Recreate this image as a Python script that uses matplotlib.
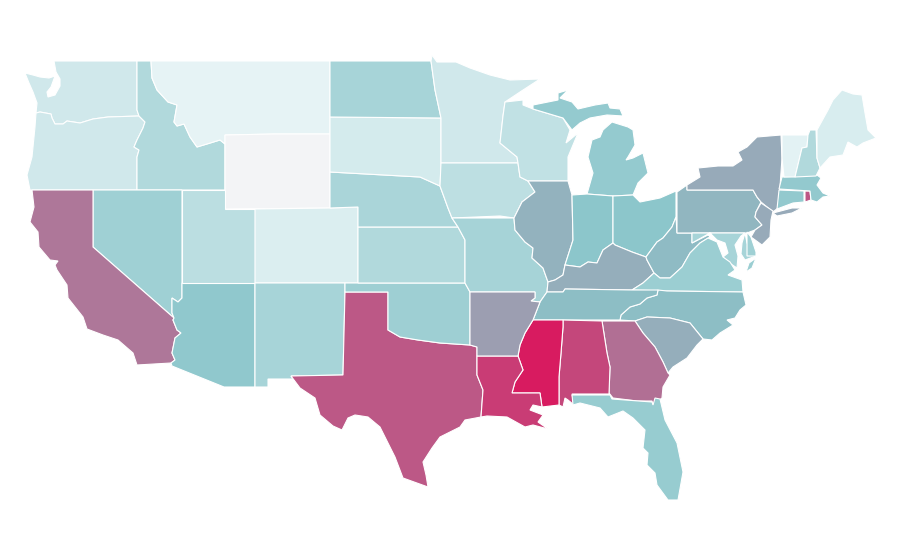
import matplotlib
matplotlib.use("Agg")
import matplotlib.pyplot as plt
from matplotlib.colors import LinearSegmentedColormap, Normalize

# outlines, in picture coordinates (x right, y down)
WA = [(54,61),(137,61),(137,110),(139,116),(108,117),(93,119),(80,123),(67,121),(63,124),(55,124),(52,118),(51,114),(40,112),(36,113),(37,103),(33,92),(29,83),(25,73),(33,75),(40,77),(49,78),(55,76),(51,87),(47,92),(48,97),(55,95),(60,86),(60,79),(56,72)]
OR = [(36,113),(40,112),(51,114),(52,118),(55,124),(63,124),(67,121),(80,123),(93,119),(108,117),(139,116),(145,122),(143,128),(137,140),(134,147),(139,150),(137,157),(137,190),(30,190),(27,175),(32,157),(35,127)]
ID = [(137,61),(151,61),(152,78),(157,90),(168,102),(177,105),(174,122),(177,126),(184,124),(190,137),(197,147),(207,144),(220,140),(225,144),(225,190),(137,190),(137,157),(139,150),(134,147),(137,140),(143,128),(145,122),(139,116),(137,110)]
MT = [(151,61),(330,61),(330,134),(275,134),(225,135),(225,144),(220,140),(207,144),(197,147),(190,137),(184,124),(177,126),(174,122),(177,105),(168,102),(157,90),(152,78)]
WY = [(225,135),(275,134),(330,134),(330,208),(225,209)]
NV = [(93,190),(182,190),(182,298),(178,302),(172,298),(172,313),(174,318),(93,247)]
CA = [(32,190),(93,190),(93,247),(174,318),(173,320),(177,330),(181,333),(175,338),(172,353),(175,360),(171,363),(137,365),(133,353),(118,340),(103,335),(87,329),(83,317),(68,298),(67,285),(57,270),(55,265),(58,261),(50,260),(39,247),(38,232),(30,222),(34,207)]
AZ = [(182,283),(255,283),(255,387),(224,387),(172,366),(171,363),(175,360),(172,353),(175,338),(181,333),(177,330),(173,320),(174,318),(172,313),(172,298),(178,302),(182,298)]
UT = [(182,190),(225,190),(225,209),(255,209),(255,283),(182,283)]
CO = [(255,209),(330,208),(358,207),(358,283),(255,283)]
NM = [(255,283),(345,283),(345,292),(343,375),(291,376),(293,379),(268,379),(268,387),(255,387)]
TX = [(345,292),(388,292),(388,330),(400,337),(418,340),(440,343),(470,345),(477,347),(477,375),(483,390),(481,417),(465,420),(460,427),(452,431),(440,437),(432,448),(423,462),(426,475),(428,487),(403,478),(395,457),(380,427),(368,417),(355,415),(348,418),(342,430),(333,426),(320,415),(315,398),(300,388),(291,376),(343,375)]
OK = [(345,283),(465,283),(470,292),(470,345),(440,343),(418,340),(400,337),(388,330),(388,292),(345,292)]
KS = [(358,227),(458,227),(465,240),(465,283),(358,283)]
NE = [(330,172),(420,177),(440,186),(448,208),(452,218),(458,227),(358,227),(358,207),(330,208)]
SD = [(330,117),(441,118),(441,165),(440,186),(420,177),(330,172)]
ND = [(330,61),(431,61),(435,90),(441,118),(330,117)]
MN = [(431,61),(432,55),(437,62),(456,62),(470,68),(490,75),(510,80),(540,79),(520,92),(505,102),(503,116),(500,143),(517,157),(518,163),(441,163),(441,118),(435,90)]
IA = [(441,163),(518,163),(520,177),(528,181),(535,192),(522,202),(514,218),(500,216),(452,218),(448,208),(440,186)]
MO = [(452,218),(514,218),(515,230),(525,242),(533,248),(532,258),(543,268),(548,282),(547,292),(540,302),(531,301),(535,298),(535,292),(470,292),(465,283),(465,240),(458,227)]
WI = [(505,102),(523,100),(523,105),(533,109),(563,118),(570,130),(566,143),(578,133),(568,157),(568,181),(528,181),(520,177),(518,163),(517,157),(500,143),(503,116)]
MI_UP = [(533,105),(558,100),(558,93),(568,90),(560,98),(572,102),(578,109),(595,105),(608,103),(610,108),(620,109),(623,116),(607,115),(590,118),(580,123),(572,130),(563,118),(533,109)]
MI_LP = [(612,122),(628,127),(633,130),(635,145),(628,157),(626,160),(633,158),(643,153),(648,173),(638,183),(633,195),(613,196),(587,194),(593,173),(588,157),(592,140),(600,137),(603,130)]
IL = [(528,181),(568,181),(572,195),(573,240),(565,265),(563,275),(555,280),(548,282),(543,268),(532,258),(533,248),(525,242),(515,230),(514,218),(522,202),(535,192)]
IN = [(572,195),(587,194),(613,196),(613,243),(603,250),(597,263),(588,262),(580,267),(565,265),(573,240)]
OH = [(613,196),(633,195),(640,202),(660,198),(676,191),(676,217),(672,227),(663,238),(657,242),(646,257),(632,252),(615,245),(613,243)]
KY = [(613,243),(615,245),(632,252),(646,257),(647,260),(654,273),(643,283),(632,290),(565,289),(563,292),(547,292),(548,282),(555,280),(563,275),(565,265),(580,267),(588,262),(597,263),(603,250)]
WV = [(676,217),(677,233),(692,233),(692,243),(708,235),(717,242),(710,237),(700,243),(690,253),(682,267),(670,278),(660,278),(654,273),(647,260),(646,257),(657,242),(663,238),(672,227)]
PA = [(677,192),(687,185),(687,190),(753,190),(757,197),(761,202),(756,212),(755,217),(762,225),(755,230),(747,233),(677,233)]
MD_W = [(692,233),(745,233),(741,236),(735,245),(738,256),(737,268),(728,262),(723,257),(728,253),(725,243),(717,240),(710,233),(692,243)]
MD_E = [(745,233),(747,243),(756,256),(745,260),(741,254),(742,243)]
DE = [(747,232),(751,237),(756,252),(756,256),(747,256),(747,243)]
VA = [(632,290),(643,283),(654,273),(660,278),(670,278),(682,267),(690,253),(700,243),(708,238),(717,242),(723,257),(730,262),(735,270),(728,275),(742,280),(743,292),(667,291)]
VA_E = [(756,258),(752,268),(746,272),(749,263)]
NC = [(658,290),(667,291),(743,292),(746,305),(740,310),(735,318),(727,320),(733,325),(720,333),(712,340),(703,339),(690,323),(670,318),(647,317),(635,321),(620,320),(621,315),(630,307),(640,304),(647,298),(657,295)]
TN = [(547,292),(563,292),(565,289),(632,290),(658,290),(657,295),(647,298),(640,304),(630,307),(621,315),(620,320),(533,320),(540,302)]
SC = [(635,321),(647,317),(670,318),(690,323),(703,339),(697,345),(687,358),(673,367),(668,373),(663,362),(655,347),(643,333)]
GA = [(602,321),(635,321),(643,333),(655,347),(663,362),(668,373),(670,375),(663,387),(662,398),(653,405),(652,401),(637,401),(613,398),(609,393),(610,367),(607,353)]
AL = [(563,320),(602,321),(607,353),(610,367),(609,394),(572,394),(574,405),(568,400),(565,398),(563,407),(559,405),(559,377),(561,353),(563,327)]
MS = [(533,320),(563,320),(563,327),(561,353),(559,377),(559,405),(542,407),(540,393),(512,393),(515,382),(523,370),(518,356),(520,345),(525,333)]
LA = [(477,356),(518,356),(523,370),(515,382),(512,393),(540,393),(542,407),(533,405),(530,410),(543,415),(538,422),(548,429),(533,425),(525,427),(507,417),(487,416),(481,417),(483,390),(477,375)]
FL = [(572,395),(610,395),(612,399),(652,402),(653,405),(655,398),(660,399),(665,420),(677,443),(683,472),(678,500),(668,500),(657,485),(655,473),(647,465),(648,453),(643,448),(645,430),(633,418),(623,411),(608,417),(600,408),(580,403),(573,405)]
AR = [(470,292),(535,292),(535,298),(531,301),(540,302),(533,320),(525,333),(520,345),(518,356),(477,356),(477,347),(470,345)]
NY = [(687,190),(687,185),(700,177),(698,168),(718,166),(733,166),(742,160),(738,152),(747,147),(757,137),(781,135),(782,158),(780,187),(778,208),(773,212),(761,202),(757,197),(753,190)]
NY_LI = [(773,213),(792,208),(802,208),(792,213),(777,216)]
NJ = [(761,203),(773,211),(771,220),(770,237),(762,245),(751,237),(755,230),(762,225),(755,217),(756,212)]
CT = [(779,190),(804,191),(804,202),(793,203),(777,209)]
RI = [(805,191),(810,191),(811,200),(805,202)]
MA = [(782,177),(817,175),(821,178),(817,185),(823,193),(830,196),(823,197),(817,202),(811,200),(810,191),(779,189)]
VT = [(782,135),(808,135),(807,147),(802,148),(795,177),(784,177),(782,158)]
NH = [(810,130),(816,130),(817,158),(820,168),(816,176),(795,177),(802,148),(807,147),(808,135)]
ME = [(817,130),(828,110),(833,100),(842,90),(853,94),(862,95),(865,113),(868,130),(876,138),(863,143),(857,147),(848,142),(843,155),(830,157),(820,168),(817,158)]

# value of each state
shapes = [[WA],[OR],[ID],[MT],[WY],[NV],[CA],[AZ],[UT],[CO],[NM],[TX],[OK],[KS],[NE],[SD],[ND],[MN],[IA],[MO],[WI],
          [MI_UP,MI_LP],[IL],[IN],[OH],[KY],[WV],[PA],[MD_W,MD_E],[DE],[VA,VA_E],[NC],[TN],[SC],[GA],[AL],[MS],[LA],[FL],[AR],
          [NY,NY_LI],[NJ],[CT],[RI],[MA],[VT],[NH],[ME]]
values = [17,17,32,7,0,40,73,47,27,12,36,82,41,32,35,15,36,17,26,37,24,
          45,55.5,49,49,57,53,54.5,36,40,42,52,52,57,75,87,100,90,44,61.5,
          58,58,46,82.5,46,8,32,13]

cmap = LinearSegmentedColormap.from_list(
    "teal_crimson", [(0, "#f3f4f6"), (0.07, "#e5f3f5"), (0.5, "#8ac5ca"), (1, "#d81b60")])
norm = Normalize(0, 100)

fig = plt.figure(figsize=(9, 5.6), dpi=100)
ax = fig.add_axes([0, 0, 1, 1])
for parts, value in zip(shapes, values):
    for part in parts:
        xs, ys = zip(*part)
        ax.fill(xs, ys, facecolor=cmap(norm(value)), edgecolor="white", linewidth=0.8)
ax.set_xlim(0, 900)
ax.set_ylim(560, 0)
ax.axis("off")

fig.savefig("out.png", dpi=100, facecolor="white")
